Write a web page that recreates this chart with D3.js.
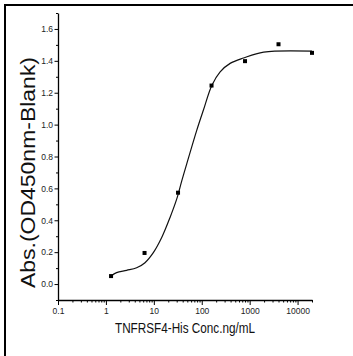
<!DOCTYPE html>
<html>
<head>
<meta charset="utf-8">
<script src="https://cdn.jsdelivr.net/npm/d3@7"></script>
<style>
  body { margin: 0; background: #fff; }
  svg { display: block; }
  .tick text { font-family: "Liberation Sans Narrow", "Liberation Sans", sans-serif; font-size: 8.5px; fill: #222; }
  .domain, .tick line { stroke: #000; }
</style>
</head>
<body>
<div id="chart"></div>
<script>
// measured points: concentration (ng/mL) and absorbance
var concValues = [1.28, 6.4, 32, 160, 800, 4000, 20000];
var absValues = [0.05, 0.195, 0.573, 1.245, 1.398, 1.504, 1.45];

// fitted curve
var fitConc = [1.28, 1.67, 2.71, 4.38, 6.54, 9.76, 14.6, 21.8, 30.1, 38.4, 48.6, 78.6, 108, 163, 242, 391, 746, 1965, 20000];
var fitAbs = [0.05, 0.072, 0.086, 0.102, 0.134, 0.197, 0.292, 0.418, 0.534, 0.649, 0.754, 0.964, 1.09, 1.247, 1.331, 1.384, 1.418, 1.455, 1.461];

var xTickValues = [0.1, 1, 10, 100, 1000, 10000];
var xTickLabels = ["0.1", "1", "10", "100", "1000", "10000"];
var yTickValues = [0, 0.2, 0.4, 0.6, 0.8, 1.0, 1.2, 1.4, 1.6];
var yMinorValues = [-0.1, 0.1, 0.3, 0.5, 0.7, 0.9, 1.1, 1.3, 1.5, 1.7];

var width = 353, height = 356;

var svg = d3.select("#chart").append("svg")
  .attr("width", width)
  .attr("height", height);

// outer frame (only left and top show in the crop)
svg.append("rect")
  .attr("x", 5).attr("y", 5)
  .attr("width", 400).attr("height", 400)
  .attr("fill", "none")
  .attr("stroke", "#000")
  .attr("stroke-width", 2);

var x = d3.scaleLog().domain([0.1, 20000]).range([58, 312]);
var y = d3.scaleLinear().domain([-0.1, 1.7]).range([300, 13]);

// minor ticks
var xMinor = x.ticks().filter(function(d) { return xTickValues.indexOf(d) < 0; });

svg.append("g")
  .attr("transform", "translate(0,300)")
  .call(d3.axisBottom(x).tickValues(xMinor).tickSize(2.5).tickFormat("").tickSizeOuter(0))
  .call(function(g) { g.select(".domain").remove(); });

svg.append("g")
  .attr("transform", "translate(58,0)")
  .call(d3.axisLeft(y).tickValues(yMinorValues).tickSize(2).tickFormat("").tickSizeOuter(0))
  .call(function(g) { g.select(".domain").remove(); });

// major axes
var xAxis = svg.append("g")
  .attr("transform", "translate(0,300)")
  .call(d3.axisBottom(x).tickValues(xTickValues).tickSize(5).tickSizeOuter(0)
    .tickFormat(function(d, i) { return xTickLabels[i]; }));
xAxis.selectAll(".tick text").attr("y", 8);
xAxis.select(".domain").attr("stroke-width", 1.3);

var yAxis = svg.append("g")
  .attr("transform", "translate(58,0)")
  .call(d3.axisLeft(y).tickValues(yTickValues).tickSize(3.5).tickSizeOuter(0)
    .tickFormat(d3.format(".1f")));
yAxis.selectAll(".tick text").attr("x", -5);
yAxis.select(".domain").attr("stroke-width", 1.3);

// fitted curve
var line = d3.line()
  .x(function(d, i) { return x(fitConc[i]); })
  .y(function(d) { return y(d); })
  .curve(d3.curveCatmullRom.alpha(0.5));

svg.append("path")
  .datum(fitAbs)
  .attr("d", line)
  .attr("fill", "none")
  .attr("stroke", "#111")
  .attr("stroke-width", 1.2);

// data points
svg.append("g").selectAll("rect")
  .data(absValues)
  .enter()
  .append("rect")
  .attr("x", function(d, i) { return x(concValues[i]) - 2; })
  .attr("y", function(d) { return y(d) - 2; })
  .attr("width", 4)
  .attr("height", 4)
  .attr("fill", "#000");

// axis titles
svg.append("text")
  .attr("x", 185)
  .attr("y", 333)
  .attr("text-anchor", "middle")
  .attr("textLength", 140)
  .attr("lengthAdjust", "spacingAndGlyphs")
  .style("font-family", "'Liberation Sans', Arial, sans-serif")
  .style("font-size", "14.5px")
  .style("fill", "#111")
  .text("TNFRSF4-His Conc.ng/mL");

svg.append("text")
  .attr("transform", "translate(35,172.5) rotate(-90)")
  .attr("text-anchor", "middle")
  .attr("textLength", 231)
  .attr("lengthAdjust", "spacingAndGlyphs")
  .style("font-family", "'Liberation Sans', Arial, sans-serif")
  .style("font-size", "21px")
  .style("fill", "#111")
  .text("Abs.(OD450nm-Blank)");
</script>
</body>
</html>
